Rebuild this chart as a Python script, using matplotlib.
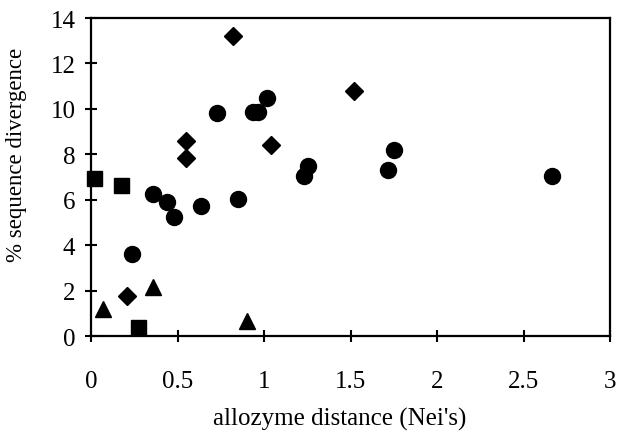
import matplotlib
matplotlib.use("Agg")
import matplotlib.pyplot as plt

plt.rcParams['font.family'] = ['Liberation Serif', 'DejaVu Serif']

# circles
circle_x = [0.730, 0.935, 0.965, 1.019, 1.256, 1.231, 1.751, 1.718, 2.667,
            0.360, 0.441, 0.482, 0.636, 0.852, 0.239]
circle_y = [9.82, 9.85, 9.88, 10.48, 7.51, 7.07, 8.21, 7.30, 7.05,
            6.24, 5.90, 5.24, 5.73, 6.02, 3.63]
# diamonds
diamond_x = [0.822, 0.547, 0.547, 1.039, 1.520, 0.210]
diamond_y = [13.22, 8.57, 7.84, 8.40, 10.79, 1.79]
# squares
square_x = [0.019, 0.171, 0.274]
square_y = [6.97, 6.66, 0.40]
# triangles
triangle_x = [0.071, 0.360, 0.904]
triangle_y = [1.20, 2.16, 0.69]

xticks = [0, 0.5, 1, 1.5, 2, 2.5, 3]
xticklabels = ['0', '0.5', '1', '1.5', '2', '2.5', '3']
yticks = [0, 2, 4, 6, 8, 10, 12, 14]

W, H = 618, 439
fig = plt.figure(figsize=(W / 100, H / 100), dpi=100)
ax = fig.add_axes([91 / W, 1 - 337.3 / H, (610 - 91) / W, (337.3 - 19) / H])

ax.plot(circle_x, circle_y, 'o', color='black', markersize=11.5, clip_on=False)
ax.plot(diamond_x, diamond_y, 'D', color='black', markersize=8.7, clip_on=False)
ax.plot(square_x, square_y, 's', color='black', markersize=10.8, clip_on=False)
ax.plot(triangle_x, triangle_y, '^', color='black', markersize=11, clip_on=False)

ax.set_xlim(0, 3)
ax.set_ylim(0, 14)
ax.set_xticks(xticks)
ax.set_xticklabels(xticklabels)
ax.set_yticks(yticks)
for s in ax.spines.values():
    s.set_linewidth(1.6)
ax.tick_params(direction='inout', length=8.5, width=1.5, labelsize=18)
ax.tick_params(axis='x', pad=20)
ax.tick_params(axis='y', pad=7)

fig.text(340 / W, 1 - 419 / H, "allozyme distance (Nei's)", ha='center', va='center', fontsize=18)
fig.text(17 / W, 1 - 155 / H, "% sequence divergence", ha='center', va='center',
         rotation=90, fontsize=16.5)

fig.savefig('out.png', dpi=100)
